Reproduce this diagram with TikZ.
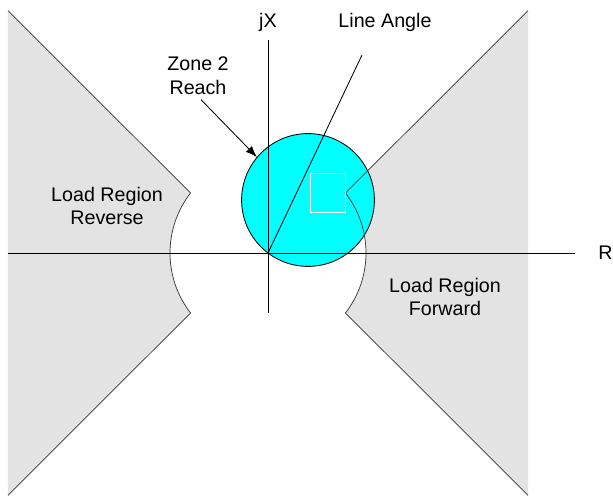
\documentclass[tikz,border=0pt]{standalone}
\usepackage{fontspec}
\setmainfont{Liberation Sans}
\usetikzlibrary{arrows.meta,positioning}
\definecolor{loadGray}{RGB}{227,227,227}
\definecolor{reachCyan}{RGB}{0,255,255}
\definecolor{edgeGray}{RGB}{50,50,50}

\begin{document}
\begin{tikzpicture}[
  font=\fontsize{14}{17}\selectfont,
  lbl/.style={align=center, inner sep=1pt},
  axisline/.style={black, line width=0.6pt},
  border/.style={edgeGray, line width=0.5pt},
]
\useasboundingbox (-6.7,-6.125) rectangle (8.625,6.325);

% load regions
\fill[loadGray] (37.76:2.45) -- (6.5,6.06) -- (6.5,-6.06) -- (-37.76:2.45)
  arc[start angle=-37.76, end angle=37.76, radius=2.45] -- cycle;
\fill[loadGray] (142.24:2.45) -- (-6.5,6.06) -- (-6.5,-6.06) -- (217.76:2.45)
  arc[start angle=217.76, end angle=142.24, radius=2.45] -- cycle;

% zone 2 circle
\node[draw, circle, fill=reachCyan, minimum size=3.32cm, inner sep=0pt,
  line width=0.6pt] (reach) at (1.0,1.325) {};

\draw[border] (6.5,6.06) -- (37.76:2.45)
  arc[start angle=37.76, end angle=-37.76, radius=2.45] -- (6.5,-6.06);
\draw[border] (-6.5,6.06) -- (142.24:2.45)
  arc[start angle=142.24, end angle=217.76, radius=2.45] -- (-6.5,-6.06);

\draw[white, line width=0.6pt] (1.06,1.0125) rectangle (1.937,1.9875);

% axes
\coordinate (O) at (0,0);
\coordinate (xLeft) at (-6.5,0);
\coordinate (xRight) at (7.675,0);
\coordinate (yLow) at (0,-1.5);
\coordinate (yHigh) at (0,5.325);
\coordinate (lineTop) at (2.35,4.95);
\draw[axisline] (xLeft) -- (xRight);
\draw[axisline] (yLow) -- (yHigh);
\draw[axisline] (O) -- (lineTop);

\node[lbl, anchor=west, inner sep=0pt] (rAxis) at (8.25,0) {R};
\node[lbl] (jxAxis) at (0,5.775) {jX};
\node[lbl] (angle) at (2.925,5.775) {Line Angle};
\node[lbl] (zone) at (-1.75,4.425) {Zone 2\\Reach};
\node[lbl] (reverse) at (-4.025,1.175) {Load Region\\Reverse};
\node[lbl] (forward) at (4.425,-1.1) {Load Region\\Forward};

\draw[axisline, -{Latex[length=8pt,width=6pt]}, shorten <=3pt] (zone.south) -- (reach.140);
\end{tikzpicture}
\end{document}
